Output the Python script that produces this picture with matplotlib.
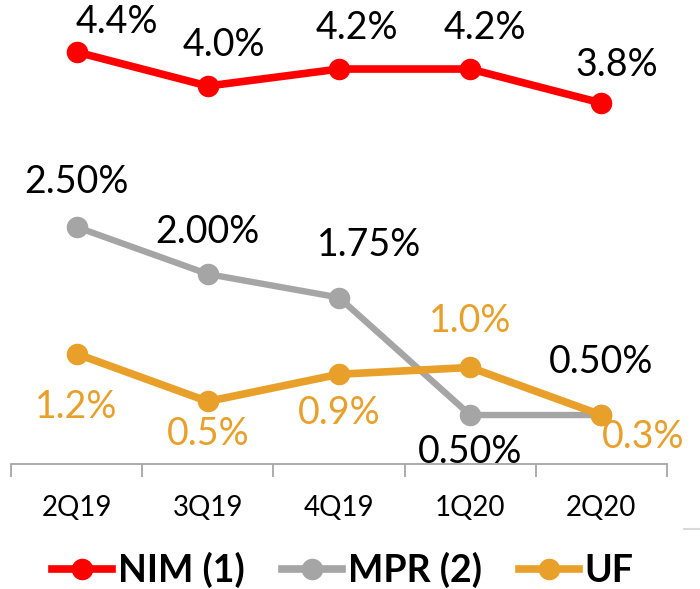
import matplotlib.pyplot as plt
from matplotlib.lines import Line2D

plt.rcParams['font.family'] = ['Lato', 'DejaVu Sans']

quarters = ['2Q19', '3Q19', '4Q19', '1Q20', '2Q20']
nim = [4.4, 4.0, 4.2, 4.2, 3.8]
mpr = [2.50, 2.00, 1.75, 0.50, 0.50]
uf = [1.2, 0.5, 0.9, 1.0, 0.3]

RED = '#FF0000'
GRAY = '#A5A5A5'
GOLD = '#E8A02B'

# label offsets in pixels (dx, dy) for each point
nim_off = [(40, 30), (16, 41), (18, 41), (15, 41), (15, 38)]
mpr_off = [(0, 45), (0, 42), (30, 53), (0, -37), (0, 53)]
uf_off = [(0, -53), (0, -33), (0, -39), (0, 46), (42, -22)]

fig = plt.figure(figsize=(7, 5.89), dpi=100)
ax = fig.add_axes([11 / 700, 125 / 589, 656 / 700, 464 / 589])
ax_mpr = ax.twinx()
ax_uf = ax.twinx()

x = list(range(len(quarters)))


def draw(a, vals, color, lw, ylim, offs, fmt, txtcolor):
    a.plot(x, vals, color=color, lw=lw, marker='o', ms=14.5,
           solid_capstyle='round', clip_on=False)
    a.set_ylim(*ylim)
    for xi, v, (dx, dy) in zip(x, vals, offs):
        a.annotate(fmt % v, (xi, v), xytext=(dx, dy), textcoords='offset pixels',
                   ha='center', va='center', fontsize=27, color=txtcolor)


draw(ax, nim, RED, 5.5, (-0.447, 5.012), nim_off, '%.1f%%', 'black')
draw(ax_mpr, mpr, GRAY, 4.6, (-0.021, 4.915), mpr_off, '%.2f%%', 'black')
draw(ax_uf, uf, GOLD, 5.5, (-0.42, 6.404), uf_off, '%.1f%%', GOLD)

for a in (ax, ax_mpr, ax_uf):
    a.set_xlim(-0.5, 4.5)
    a.set_yticks([])
    for s in ('top', 'left', 'right', 'bottom'):
        a.spines[s].set_visible(False)

ax.spines['bottom'].set_visible(True)
ax.spines['bottom'].set_color('#A6A6A6')
ax.spines['bottom'].set_linewidth(1.3)
ax.set_xticks(x)
ax.set_xticklabels(quarters, fontsize=20)
ax.tick_params(axis='x', which='major', length=0, pad=22)
ax.set_xticks([i - 0.5 for i in range(len(quarters) + 1)], minor=True)
ax.tick_params(axis='x', which='minor', length=9, width=1.3, color='#A6A6A6')

handles = [
    Line2D([], [], color=RED, lw=5.5, marker='o', ms=14.5),
    Line2D([], [], color=GRAY, lw=5.5, marker='o', ms=14.5),
    Line2D([], [], color=GOLD, lw=5.5, marker='o', ms=14.5),
]
fig.legend(handles, ['NIM (1)', 'MPR (2)', 'UF'], loc='center',
           bbox_to_anchor=(0.49, 19 / 589), ncol=3, frameon=False,
           handlelength=1.6, handletextpad=0.15, columnspacing=1.0,
           prop={'size': 27, 'weight': 'bold'})

# small stray rule at the lower right
fig.add_artist(Line2D([684 / 700, 1.0], [60 / 589, 60 / 589], color='#D9D9D9', lw=1.5))

fig.savefig('out.png', dpi=100)
